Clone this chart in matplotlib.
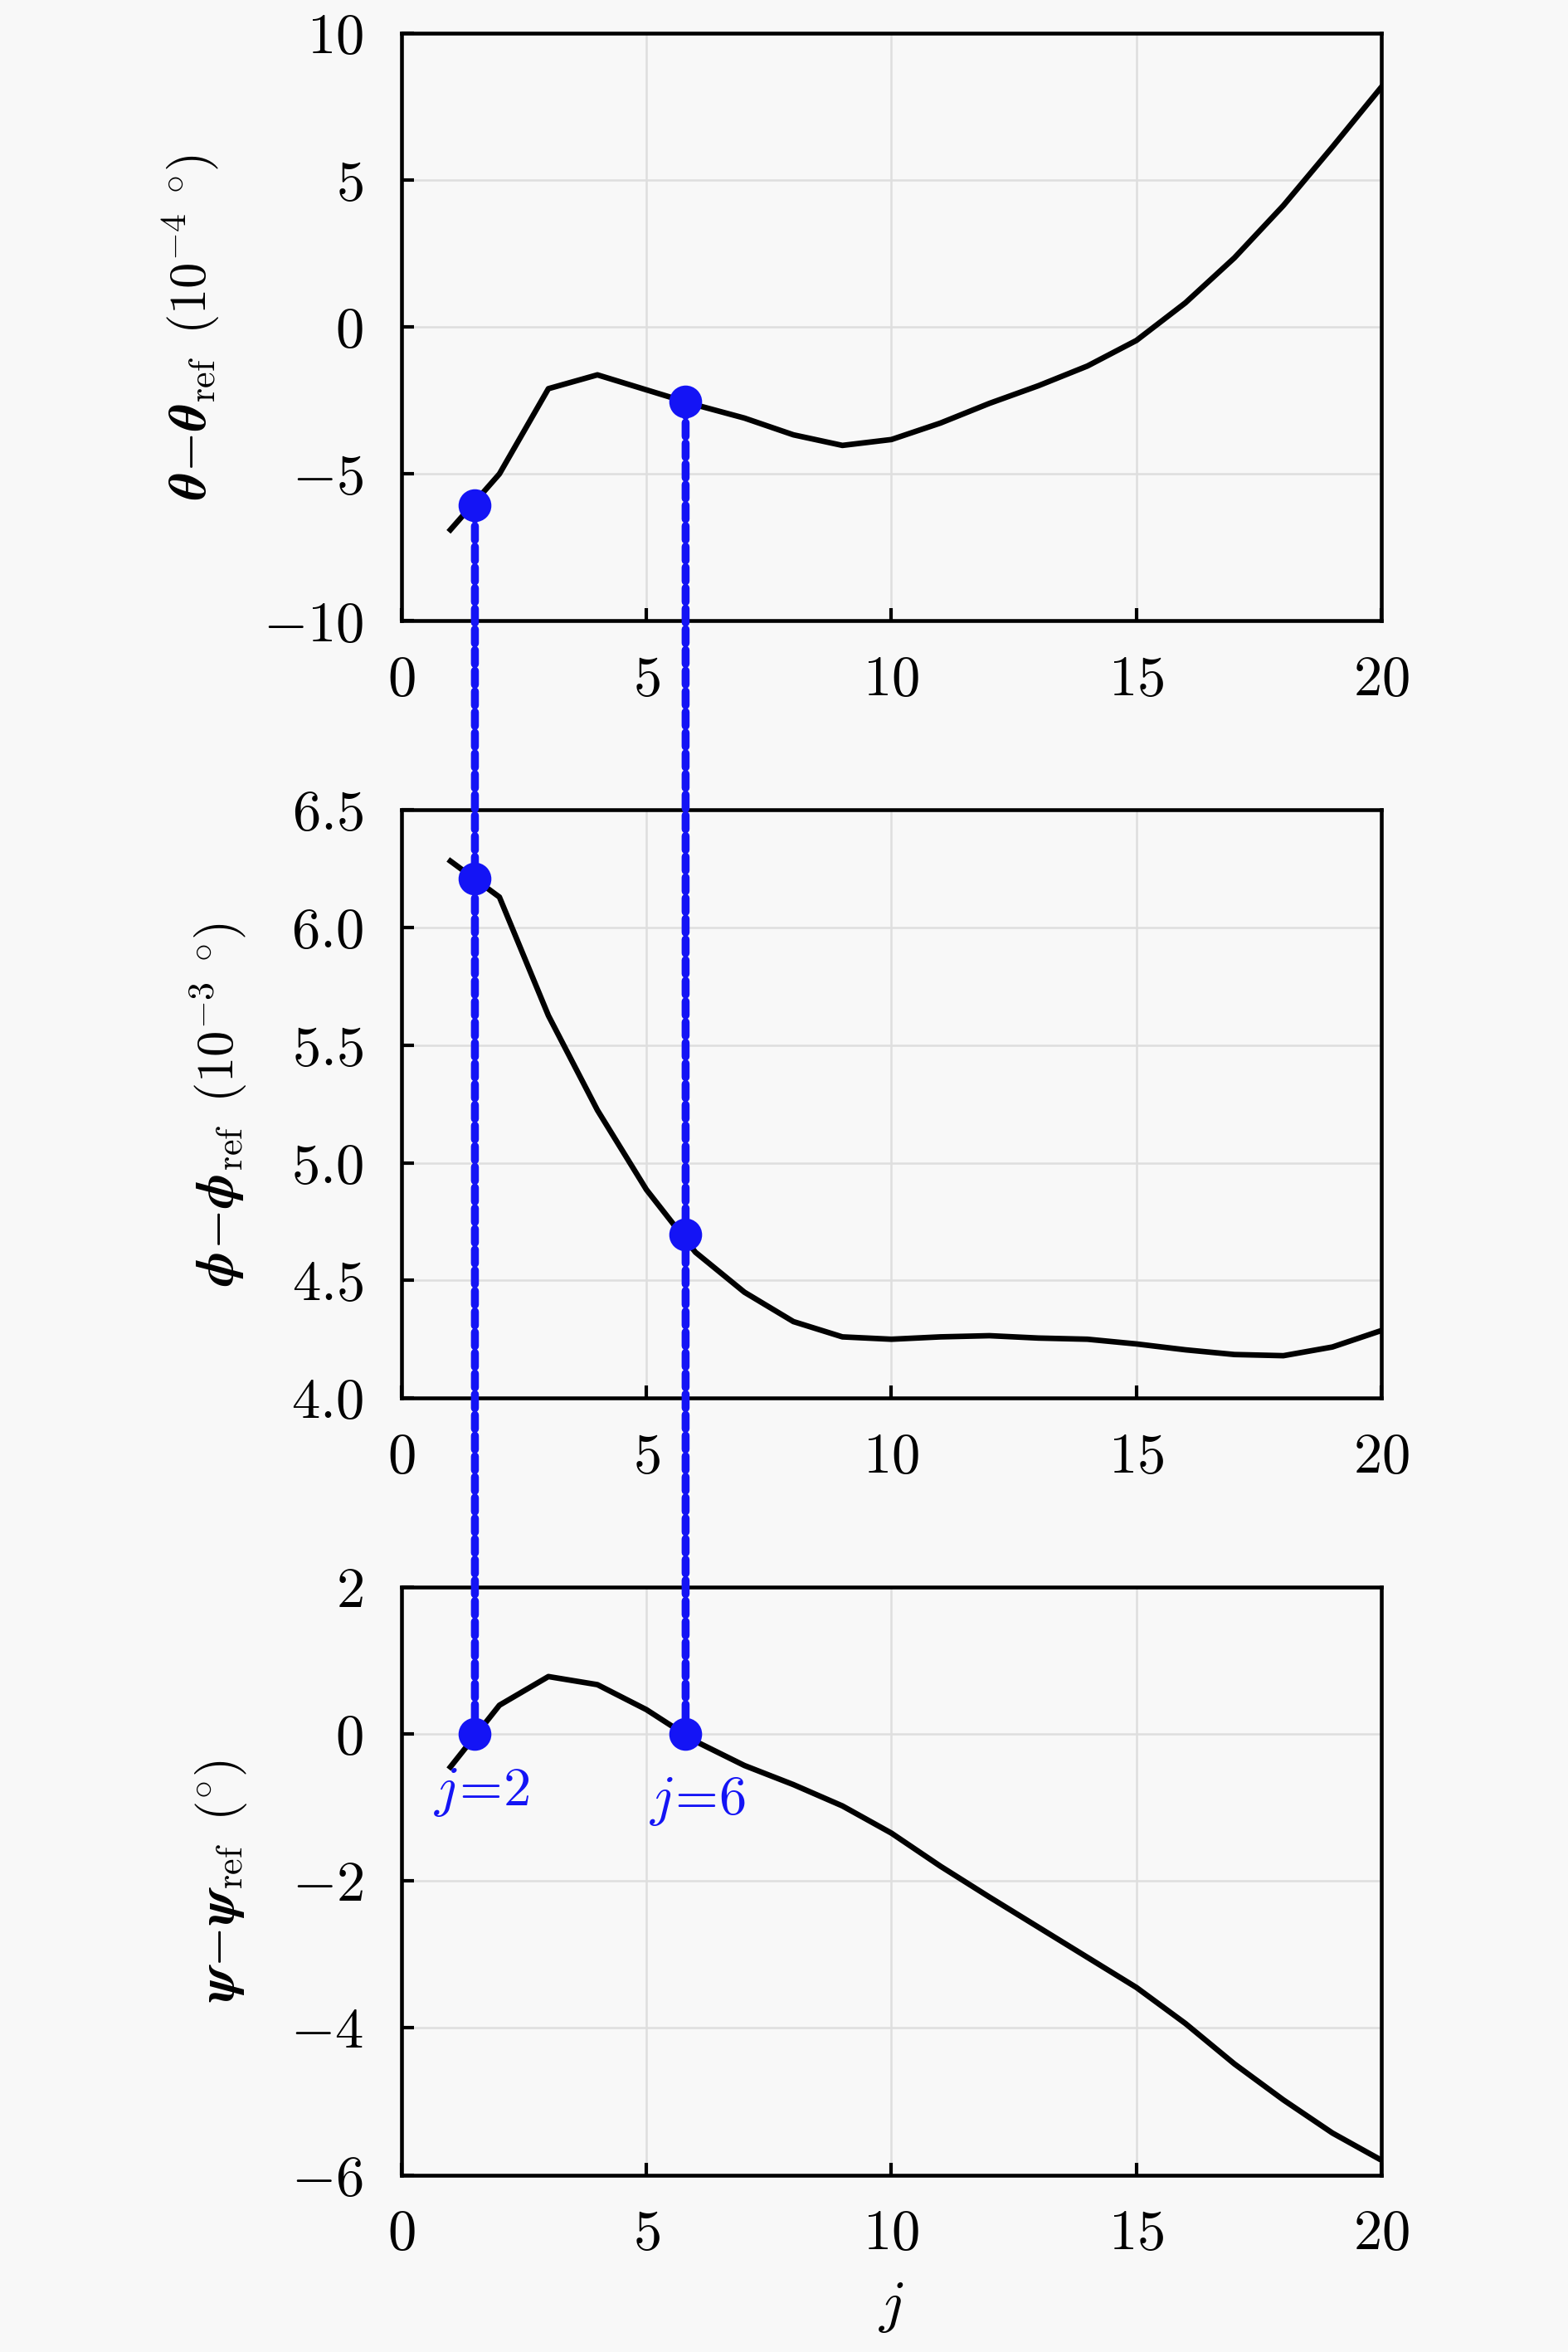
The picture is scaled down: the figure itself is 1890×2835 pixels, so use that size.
import numpy as np
import matplotlib
matplotlib.use('Agg')
from matplotlib import pyplot as plt
from matplotlib.patches import ConnectionPatch
from matplotlib.ticker import FuncFormatter

plt.rcParams['mathtext.fontset'] = 'cm'
plt.rcParams['font.family'] = 'serif'
plt.rcParams['font.serif'] = ['cmr10', 'DejaVu Serif']
plt.rcParams['axes.unicode_minus'] = False

# data
j = list(range(1, 21))
theta = [-6.9, -5.0, -2.1, -1.63, -2.14, -2.65, -3.1, -3.67, -4.03, -3.83,
         -3.27, -2.6, -2.0, -1.33, -0.46, 0.82, 2.35, 4.13, 6.12, 8.16]
phi = [6.283, 6.13, 5.626, 5.224, 4.886, 4.62, 4.45, 4.325, 4.26, 4.25,
       4.26, 4.265, 4.255, 4.25, 4.23, 4.205, 4.185, 4.18, 4.217, 4.287]
psi = [-0.45, 0.39, 0.78, 0.67, 0.33, -0.1, -0.43, -0.69, -0.98, -1.35,
       -1.8, -2.22, -2.63, -3.04, -3.45, -3.94, -4.49, -4.98, -5.43, -5.8]

mark_j = [1.5, 5.8]
mark_theta = [-6.07, -2.55]
mark_phi = [6.207, 4.695]
mark_psi = [0.0, 0.0]
mark_labels = [r'$j\!=\!2$', r'$j\!=\!6$']

ylabels = [r'$\boldsymbol{\theta}\!-\!\boldsymbol{\theta}_{\rm ref}\ \,(10^{-4}\ {}^{\circ})$',
           r'$\boldsymbol{\phi}\!-\!\boldsymbol{\phi}_{\rm ref}\ \,(10^{-3}\ {}^{\circ})$',
           r'$\boldsymbol{\psi}\!-\!\boldsymbol{\psi}_{\rm ref}\ \,({}^{\circ})$']

BG = '#f8f8f8'
BLUE = '#1414f5'

fig = plt.figure(figsize=(6.3, 9.45), dpi=300, facecolor=BG)
bottoms = [0.736, 0.4056, 0.0753]
axes = []
for b in bottoms:
  ax = fig.add_axes([0.256, b, 0.625, 0.25], facecolor=BG)
  axes.append(ax)

ylims = [(-10, 10), (4.0, 6.5), (-6, 2)]
yticks = [np.arange(-10, 11, 5), np.arange(4.0, 6.51, 0.5), np.arange(-6, 2.1, 2)]
yfmts = [lambda v, p: r'$%d$' % round(v),
         lambda v, p: r'$%.1f$' % v,
         lambda v, p: r'$%d$' % round(v)]
series = [theta, phi, psi]
marks = [mark_theta, mark_phi, mark_psi]

for ax, ys, ms_, yl, yt, yf, lab in zip(axes, series, marks, ylims, yticks, yfmts, ylabels):
  ax.plot(j, ys, color='black', lw=1.6, zorder=3)
  ax.plot(mark_j, ms_, 'o', color=BLUE, ms=8.5, zorder=5)
  ax.set_xlim(0, 20)
  ax.set_ylim(*yl)
  ax.set_xticks(np.arange(0, 21, 5))
  ax.set_yticks(yt)
  ax.xaxis.set_major_formatter(FuncFormatter(lambda v, p: r'$%d$' % round(v)))
  ax.yaxis.set_major_formatter(FuncFormatter(yf))
  ax.tick_params(direction='in', length=3.5, width=1.0, labelsize=16.5)
  ax.tick_params(axis='x', pad=10)
  ax.tick_params(axis='y', pad=11)
  ax.grid(True, color='#dedede', lw=0.6)
  ax.set_axisbelow(True)
  for s in ax.spines.values():
    s.set_linewidth(1.1)
  ax.set_ylabel(lab, fontsize=15, labelpad=12)

axes[2].set_xlabel(r'$j$', fontsize=17, labelpad=6)

# dashed connectors through all three panels
for x, yt_, yb_ in zip(mark_j, mark_theta, mark_psi):
  con = ConnectionPatch(xyA=(x, yt_), coordsA=axes[0].transData,
                        xyB=(x, yb_), coordsB=axes[2].transData,
                        color=BLUE, lw=2.3, ls=(0, (1.75, 0.85)), zorder=4)
  fig.add_artist(con)

axes[2].text(1.65, -0.8, mark_labels[0], color=BLUE, fontsize=16,
             ha='center', va='center')
axes[2].text(6.05, -0.92, mark_labels[1], color=BLUE, fontsize=16,
             ha='center', va='center')

fig.savefig('out.png', dpi=300, facecolor=BG)
